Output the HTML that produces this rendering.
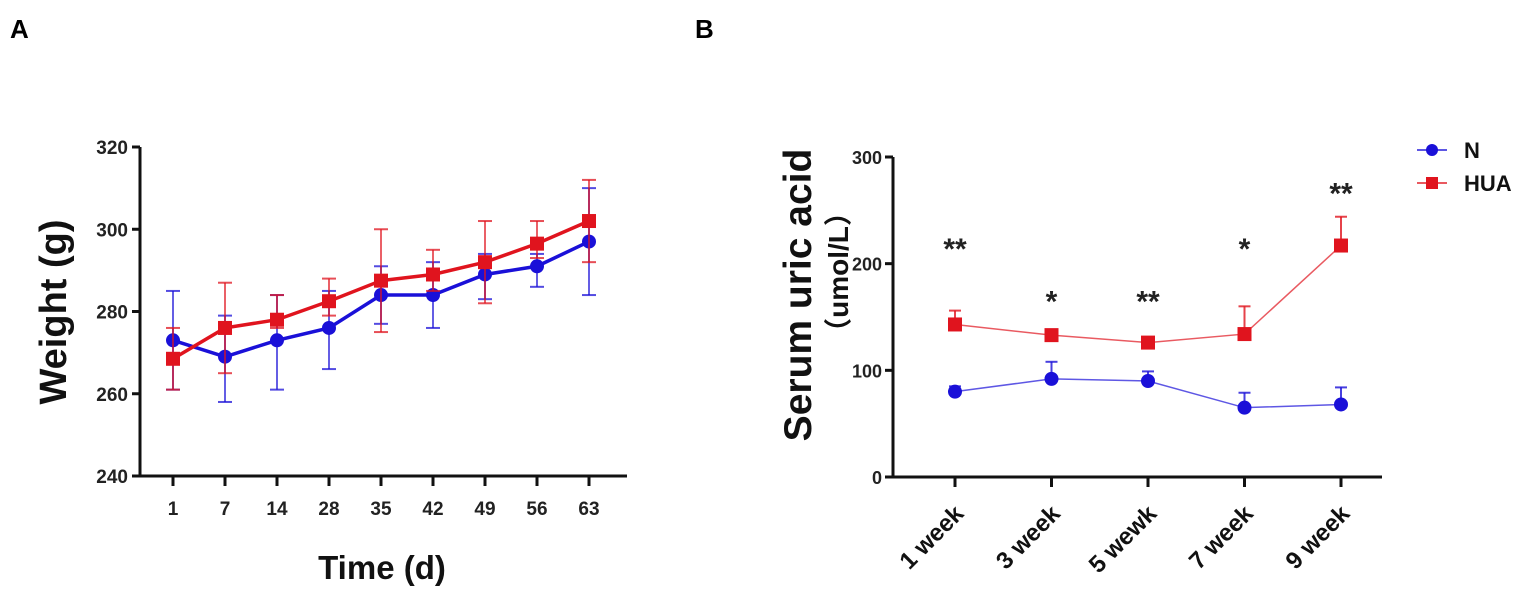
<!DOCTYPE html>
<html><head><meta charset="utf-8"><style>
html,body{margin:0;padding:0;background:#fff;}
svg{display:block;font-family:"Liberation Sans",Arial,"Noto Sans CJK SC",sans-serif;}
</style></head><body>
<svg id="fig" width="1536" height="608" viewBox="0 0 1536 608" xmlns="http://www.w3.org/2000/svg">
<text x="10" y="38" font-size="26" font-weight="bold">A</text>
<text x="695" y="38" font-size="26" font-weight="bold">B</text>
<g id="chartA"></g>
<g id="chartB"></g>
</svg>
<script>
// Panel A data
const daysA = ["1","7","14","28","35","42","49","56","63"];
const ticksA = [240,260,280,300,320];
const nWeight = [273,269,273,276,284,284,289,291,297];
const nWeightHi = [285,279,284,285,291,292,294,294,310];
const nWeightLo = [261,258,261,266,277,276,283,286,284];
const huaWeight = [268.5,276,278,282.5,287.5,289,292,296.5,302];
const huaWeightHi = [276,287,284,288,300,295,302,302,312];
const huaWeightLo = [261,265,276,279,275,285,282,293,292];
// Panel B data
const weeksB = ["1 week","3 week","5 wewk","7 week","9 week"];
const ticksB = [0,100,200,300];
const nUric = [80,92,90,65,68];
const nUricHi = [85,108,99,79,84];
const huaUric = [143,133,126,134,217];
const huaUricHi = [156,136,128,160,244];
const stars = ["**","*","**","*","**"];
const starLevel = [225,176,176,225,277];

const NS="http://www.w3.org/2000/svg";
function mk(parent,tag,attrs,text){const e=document.createElementNS(NS,tag);for(const k in attrs)e.setAttribute(k,attrs[k]);if(text!==undefined)e.textContent=text;parent.appendChild(e);return e;}
const BLUE="#1a10d8", RED="#e0141e";

// ---- Panel A
(function(){
const g=document.getElementById('chartA');
const x0=140,x1=627,yTop=147,yBot=476;
const y=v=>yBot-(v-240)/80*(yBot-yTop);
const x=i=>173+i*52;
let e=mk(g,'line',{x1:x0,y1:yTop,x2:x0,y2:yBot,stroke:'#111','stroke-width':3});

e=mk(g,'line',{x1:x0-1,y1:yBot,x2:x1,y2:yBot,stroke:'#111','stroke-width':3});

ticksA.forEach(t=>{mk(g,'line',{x1:x0-8,y1:y(t),x2:x0,y2:y(t),stroke:'#111','stroke-width':3});
 e=mk(g,'text',{x:x0-12,y:y(t)+7,'text-anchor':'end','font-size':19,'font-weight':'bold',fill:'#222'},t);
 });
daysA.forEach((d,i)=>{mk(g,'line',{x1:x(i),y1:yBot,x2:x(i),y2:yBot+10,stroke:'#111','stroke-width':3});
 e=mk(g,'text',{x:x(i),y:515,'text-anchor':'middle','font-size':19,'font-weight':'bold',fill:'#222'},d);
 });
e=mk(g,'text',{x:382,y:579,'text-anchor':'middle','font-size':33,'font-weight':'bold',fill:'#111'},'Time (d)');

e=mk(g,'text',{transform:'translate(66,312) rotate(-90)','text-anchor':'middle','font-size':38,'font-weight':'bold',fill:'#111'},'Weight (g)');

function series(vals,hi,lo,col,sq,name){
 const sg=mk(g,'g',{});
 vals.forEach((v,i)=>{mk(sg,'line',{x1:x(i),y1:y(hi[i]),x2:x(i),y2:y(lo[i]),stroke:col,'stroke-width':1.8,opacity:0.75});
  [hi[i],lo[i]].forEach(c=>mk(sg,'line',{x1:x(i)-7,y1:y(c),x2:x(i)+7,y2:y(c),stroke:col,'stroke-width':2,opacity:0.75}));});
 mk(sg,'polyline',{points:vals.map((v,i)=>x(i)+','+y(v)).join(' '),fill:'none',stroke:col,'stroke-width':3.5});
 vals.forEach((v,i)=>{const m=sq?mk(sg,'rect',{x:x(i)-7,y:y(v)-7,width:14,height:14,fill:col}):mk(sg,'circle',{cx:x(i),cy:y(v),r:7,fill:col});
  });
}
series(nWeight,nWeightHi,nWeightLo,BLUE,false,'series-n-weight');
series(huaWeight,huaWeightHi,huaWeightLo,RED,true,'series-hua-weight');
})();

// ---- Panel B
(function(){
const g=document.getElementById('chartB');
const x0=893,x1=1382,yTop=157,yBot=477;
const y=v=>yBot-v/300*(yBot-yTop);
const x=i=>955+i*96.5;
let e=mk(g,'line',{x1:x0,y1:yTop,x2:x0,y2:yBot,stroke:'#111','stroke-width':3});

e=mk(g,'line',{x1:x0-1,y1:yBot,x2:x1,y2:yBot,stroke:'#111','stroke-width':3});

ticksB.forEach(t=>{mk(g,'line',{x1:x0-8,y1:y(t),x2:x0,y2:y(t),stroke:'#111','stroke-width':3});
 e=mk(g,'text',{x:x0-11,y:y(t)+7,'text-anchor':'end','font-size':18,'font-weight':'bold',fill:'#222'},t);
 });
weeksB.forEach((d,i)=>{mk(g,'line',{x1:x(i),y1:yBot,x2:x(i),y2:yBot+10,stroke:'#111','stroke-width':3});
 e=mk(g,'text',{transform:`translate(${x(i)+10},${515}) rotate(-45)`,'text-anchor':'end','font-size':24,'font-weight':'bold',fill:'#111'},d);
 });
e=mk(g,'text',{transform:'translate(811,295) rotate(-90)','text-anchor':'middle','font-size':39,'font-weight':'bold',fill:'#111'},'Serum uric acid');

e=mk(g,'text',{transform:'translate(848,272) rotate(-90)','text-anchor':'middle','font-size':28,'font-weight':'bold',fill:'#111'},'（umol/L）');

function series(vals,hi,col,sq,name){
 const sg=mk(g,'g',{});
 vals.forEach((v,i)=>{mk(sg,'line',{x1:x(i),y1:y(hi[i]),x2:x(i),y2:y(v),stroke:col,'stroke-width':2,opacity:0.8});
  mk(sg,'line',{x1:x(i)-6,y1:y(hi[i]),x2:x(i)+6,y2:y(hi[i]),stroke:col,'stroke-width':2,opacity:0.8});});
 mk(sg,'polyline',{points:vals.map((v,i)=>x(i)+','+y(v)).join(' '),fill:'none',stroke:col,'stroke-width':1.5,opacity:0.7});
 vals.forEach((v,i)=>{const m=sq?mk(sg,'rect',{x:x(i)-7,y:y(v)-7,width:14,height:14,fill:col}):mk(sg,'circle',{cx:x(i),cy:y(v),r:7,fill:col});
  });
}
series(nUric,nUricHi,BLUE,false,'series-n-uric');
series(huaUric,huaUricHi,RED,true,'series-hua-uric');
stars.forEach((s,i)=>{e=mk(g,'text',{x:x(i),y:y(starLevel[i])+22,'text-anchor':'middle','font-size':30,'font-weight':'bold',fill:'#222'},s);
 });
// legend
const lg=mk(g,'g',{});
[[150,'N',BLUE,false],[183,'HUA',RED,true]].forEach(([ly,t,c,sq])=>{
 const en=mk(lg,'g',{});
 mk(en,'line',{x1:1417,y1:ly,x2:1447,y2:ly,stroke:c,'stroke-width':2,opacity:0.7});
 if(sq)mk(en,'rect',{x:1426,y:ly-6,width:12,height:12,fill:c});else mk(en,'circle',{cx:1432,cy:ly,r:6,fill:c});
 mk(en,'text',{x:1464,y:ly+8,'font-size':22,'font-weight':'bold',fill:'#111'},t);
});
})();
</script>
</body></html>
